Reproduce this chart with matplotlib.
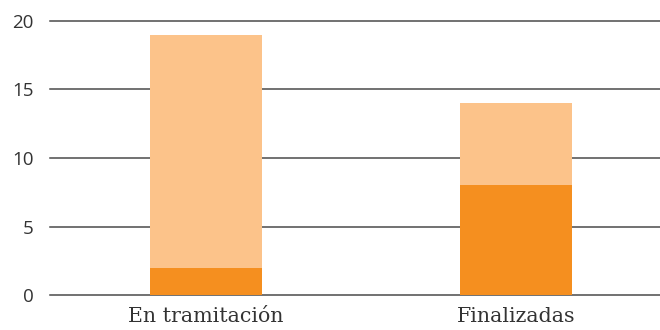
import numpy as np
import matplotlib.pyplot as plt

categories = ['En tramitación', 'Finalizadas']
dark_vals = [2, 8]
light_vals = [17, 6]
yticks = [0, 5, 10, 15, 20]

dark_color = '#f58f1f'
light_color = '#fcc38a'

fig = plt.figure(figsize=(6.6, 3.3), dpi=100)
fig.set_facecolor('w')
ax = fig.add_axes([50 / 660, 35 / 330, 610 / 660, 274 / 330])

x = np.arange(len(categories))
ax.bar(x, dark_vals, width=0.36, color=dark_color, zorder=3)
ax.bar(x, light_vals, width=0.36, bottom=dark_vals, color=light_color, zorder=3)

ax.set_ylim(0, 20)
ax.set_xlim(-0.503, 1.465)
ax.set_yticks(yticks)
for t in yticks:
    ax.axhline(t, color='#4a4a4a', linewidth=1.1, zorder=0, clip_on=False)
for s in ax.spines.values():
    s.set_visible(False)
ax.tick_params(axis='y', length=0, pad=12, labelsize=13.5, labelcolor='#333333')
ax.tick_params(axis='x', length=0, pad=9)
ax.set_xticks(x)
ax.set_xticklabels(categories, family='DejaVu Serif', fontsize=14.8, color='#333333')
for lbl in ax.get_yticklabels():
    lbl.set_family('Open Sans')

fig.savefig('out.png', dpi=100)
